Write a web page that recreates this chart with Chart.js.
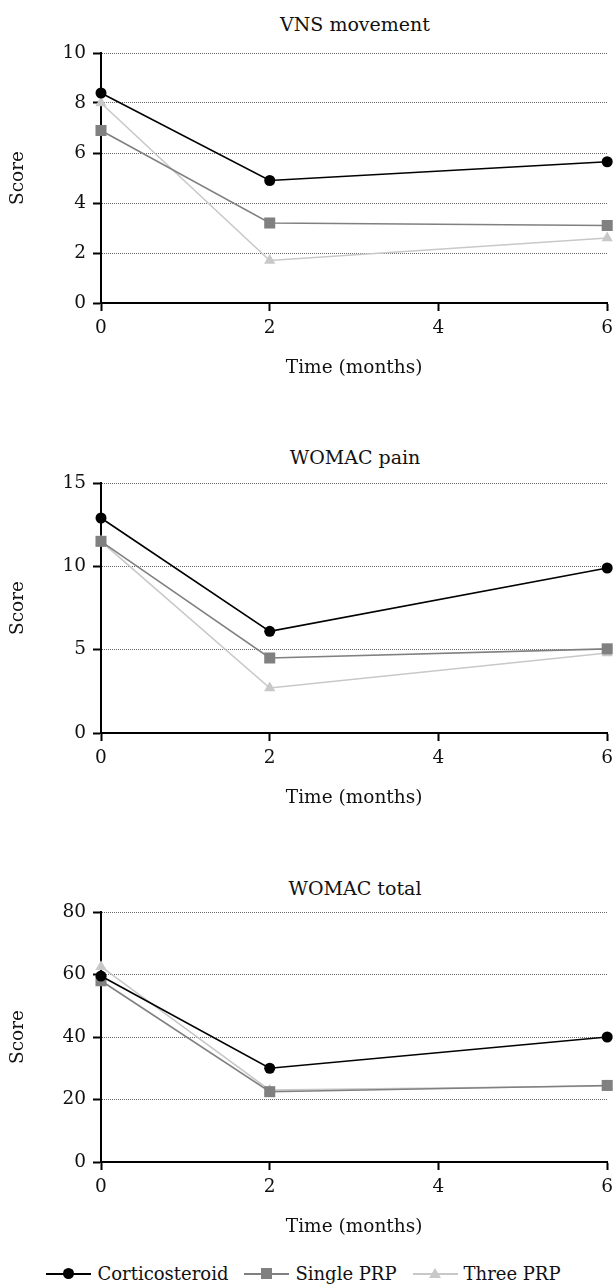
<!DOCTYPE html>
<html>
<head>
<meta charset="utf-8">
<script src="https://cdn.jsdelivr.net/npm/chart.js@4.4.0/dist/chart.umd.min.js"></script>
<style>
  html, body { margin: 0; padding: 0; background: #fff; }
  body { width: 615px; height: 1287px; position: relative; overflow: hidden; font-family: 'DejaVu Serif', serif; color: #111; }
  .panel { position: absolute; left: 0; width: 615px; height: 346px; }
  .ttl { position: absolute; left: 101px; width: 508px; text-align: center; font-size: 19px; line-height: 22px; }
  .legend { position: absolute; left: -4px; width: 615px; top: 1262px; display: flex; justify-content: center; align-items: center; font-size: 18px; line-height: 24px; }
  .item { display: flex; align-items: center; margin: 0 8px; }
  .key { position: relative; width: 45px; height: 12px; margin-right: 6px; }
  .key .ln { position: absolute; left: 0; right: 0; top: 5px; height: 1.5px; }
  .key .mk { position: absolute; left: 17px; top: 0; }
  .circle { width: 11px; height: 11px; border-radius: 50%; background: #000; }
  .square { width: 11px; height: 11px; background: #808080; }
  .tri { width: 0; height: 0; border-left: 6px solid transparent; border-right: 6px solid transparent; border-bottom: 10px solid #c8c8c8; }
</style>
</head>
<body>
<div class="ttl" style="top:13px">VNS movement</div>
<div class="panel" style="top:33px"><canvas id="c1"></canvas></div>
<div class="ttl" style="top:446px">WOMAC pain</div>
<div class="panel" style="top:463px"><canvas id="c2"></canvas></div>
<div class="ttl" style="top:877px">WOMAC total</div>
<div class="panel" style="top:892px"><canvas id="c3"></canvas></div>

<div class="legend">
  <div class="item"><div class="key"><div class="ln" style="background:#000"></div><div class="mk circle"></div></div>Corticosteroid</div>
  <div class="item"><div class="key"><div class="ln" style="background:#808080"></div><div class="mk square"></div></div>Single PRP</div>
  <div class="item"><div class="key"><div class="ln" style="background:#c8c8c8"></div><div class="mk tri" style="left:16px;top:0px"></div></div>Three PRP</div>
</div>

<script>
const months = [0, 2, 6];
const xTicks = [0, 2, 4, 6];
const groups = ['Corticosteroid', 'Single PRP', 'Three PRP'];

// VNS movement
const vnsCortico = [8.4, 4.9, 5.65];
const vnsSingle = [6.9, 3.2, 3.1];
const vnsThree = [8.0, 1.7, 2.6];
const vnsTicks = [0, 2, 4, 6, 8, 10];

// WOMAC pain
const painCortico = [12.9, 6.1, 9.9];
const painSingle = [11.5, 4.5, 5.05];
const painThree = [11.5, 2.7, 4.8];
const painTicks = [0, 5, 10, 15];

// WOMAC total
const totalCortico = [59.5, 30, 40];
const totalSingle = [58, 22.5, 24.5];
const totalThree = [62.5, 23, 24.3];
const totalTicks = [0, 20, 40, 60, 80];

const font = { family: "'DejaVu Serif', serif", size: 18.5 };
const ink = '#111';

const styles = [
  { color: '#000', bg: '#000', pointStyle: 'circle', radius: 5.5 },
  { color: '#808080', bg: '#808080', pointStyle: 'rect', radius: 7.8 },
  { color: '#c8c8c8', bg: '#c8c8c8', pointStyle: 'triangle', radius: 6.5 },
];

function makePanel(id, seriesList, yTicks) {
  const datasets = seriesList.map((vals, i) => ({
    label: groups[i],
    data: months.map((m, j) => ({ x: m, y: vals[j] })),
    borderColor: styles[i].color,
    backgroundColor: styles[i].bg,
    pointStyle: styles[i].pointStyle,
    pointRadius: styles[i].radius,
    pointBorderWidth: 0,
    borderWidth: 1.6,
    tension: 0,
    clip: false,
  }));
  new Chart(document.getElementById(id), {
    type: 'line',
    data: { datasets },
    options: {
      responsive: true,
      maintainAspectRatio: false,
      animation: false,
      layout: { padding: { top: 20, right: 6, left: 0, bottom: 0 } },
      plugins: { legend: { display: false }, tooltip: { enabled: false } },
      scales: {
        x: {
          type: 'linear', min: 0, max: 6,
          afterBuildTicks: (s) => { s.ticks = xTicks.map(v => ({ value: v })); },
          // keep the plot running right up to the page edge like the original
          afterFit: (s) => { s.height = 76; s.paddingLeft = 0; s.paddingRight = 0; },
          grid: { drawOnChartArea: false, drawTicks: true, tickLength: 8, tickColor: '#000', tickWidth: 2 },
          border: { color: '#000', width: 2 },
          ticks: { padding: 6, color: ink, font, maxRotation: 0 },
          title: { display: true, text: 'Time (months)', color: ink, font, padding: { top: 17, bottom: 0 } },
        },
        y: {
          min: yTicks[0], max: yTicks[yTicks.length - 1],
          afterBuildTicks: (s) => { s.ticks = yTicks.map(v => ({ value: v })); },
          afterFit: (s) => { s.width = 101; },
          grid: {
            color: (ctx) => (ctx.tick && ctx.tick.value === 0 ? 'rgba(0,0,0,0)' : '#666'),
            lineWidth: 1,
            tickLength: 8, tickColor: '#000', tickWidth: 2, tickBorderDash: [],
          },
          border: { color: '#000', width: 2, dash: [1, 1] },
          ticks: { padding: 7, color: ink, font },
          title: { display: true, text: 'Score', color: ink, font, padding: { top: 7, bottom: 0 } },
        },
      },
    },
  });
}

makePanel('c1', [vnsCortico, vnsSingle, vnsThree], vnsTicks);
makePanel('c2', [painCortico, painSingle, painThree], painTicks);
makePanel('c3', [totalCortico, totalSingle, totalThree], totalTicks);
</script>
</body>
</html>
